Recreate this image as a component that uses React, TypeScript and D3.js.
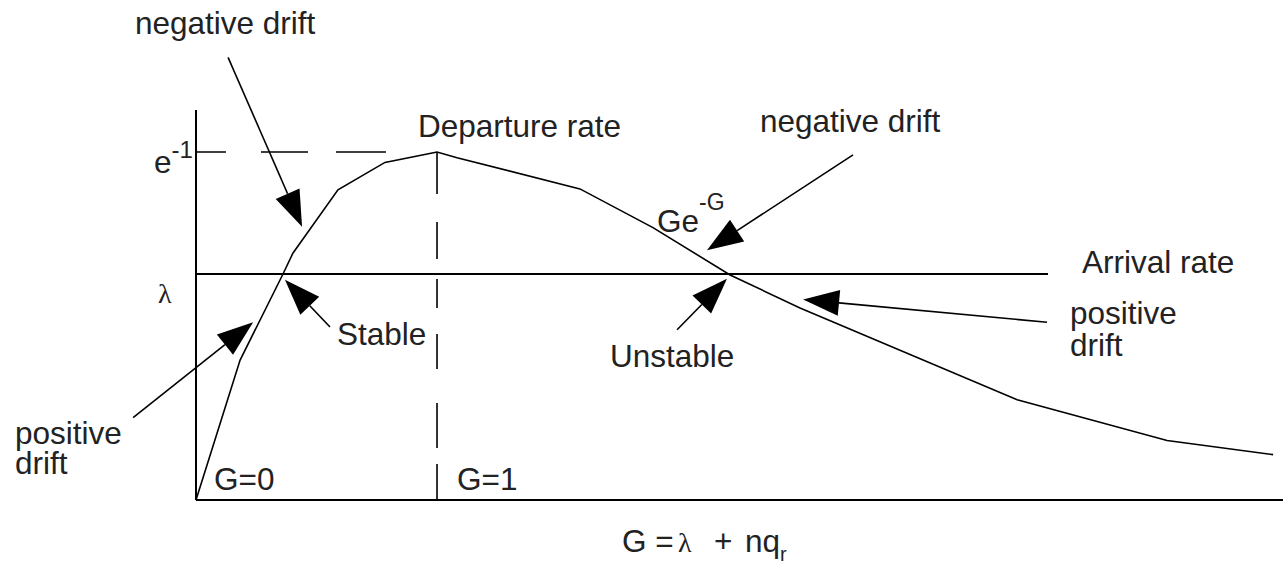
import React, { useEffect } from 'react';
import * as d3 from 'd3';

// departure rate curve Ge^-G (G, rate)
const curveG = [0, 0.183, 0.361, 0.402, 0.589, 0.784, 0.98, 1.0, 1.083, 1.593, 1.896, 2.216, 2.506, 3.407, 4.029, 4.469];
const curveRate = [0, 0.148, 0.239, 0.261, 0.328, 0.357, 0.367, 0.368, 0.362, 0.329, 0.288, 0.238, 0.203, 0.106, 0.063, 0.048];

// arrival rate lambda and its extent along G
const arrivalRate = 0.239;
const arrivalEndG = 3.535;
const peakRate = 0.368; // e^-1
const peakG = 1;

// annotation arrows: tail -> tip, in data units
const arrowTailG = [0.133, 0.556, -0.261, 2.726, 1.996, 3.531];
const arrowTailRate = [0.468, 0.183, 0.087, 0.365, 0.18, 0.188];
const arrowTipG = [0.44, 0.369, 0.237, 2.12, 2.203, 2.519];
const arrowTipRate = [0.289, 0.233, 0.188, 0.264, 0.234, 0.212];

const W = 1283;
const H = 567;
const FONT = '"Liberation Sans", Arial, Helvetica, sans-serif';
const SERIF = '"Liberation Serif", "DejaVu Serif", serif';

function Arrow({ x1, y1, x2, y2 }: { x1: number; y1: number; x2: number; y2: number }) {
  const ang = Math.atan2(y2 - y1, x2 - x1);
  const len = 36;
  const hw = 13;
  const bx = x2 - len * Math.cos(ang);
  const by = y2 - len * Math.sin(ang);
  const px = -Math.sin(ang) * hw;
  const py = Math.cos(ang) * hw;
  return (
    <g>
      <line x1={x1} y1={y1} x2={bx} y2={by} stroke="#000" strokeWidth={1.6} />
      <path d={`M${x2},${y2}L${bx + px},${by + py}L${bx - px},${by - py}Z`} fill="#000" />
    </g>
  );
}

export default function App() {
  useEffect(() => {
    document.body.style.margin = '0';
  }, []);

  const x = d3.scaleLinear().domain([0, 4.51]).range([196, 1283]);
  const y = d3.scaleLinear().domain([0, 0.368]).range([500, 152]);

  const pts = curveG.map((g, i) => [g, curveRate[i]] as [number, number]);
  const line = d3.line<[number, number]>().x(d => x(d[0])).y(d => y(d[1]));

  const txt = { fontFamily: FONT, fontSize: 31.5, fill: '#222' };

  return (
    <svg width={W} height={H} style={{ display: 'block', background: '#fff' }}>
      {/* axes */}
      <line x1={x(0)} y1={y(0)} x2={x(0)} y2={110} stroke="#000" strokeWidth={2} />
      <line x1={x(0)} y1={y(0)} x2={W} y2={y(0)} stroke="#000" strokeWidth={2} />

      {/* e^-1 and G=1 guides */}
      <line x1={x(0)} y1={y(peakRate)} x2={x(0) + 190} y2={y(peakRate)} stroke="#000" strokeWidth={1.6}
        strokeDasharray="30 35 47 28 50" />
      <line x1={x(peakG)} y1={y(peakRate)} x2={x(peakG)} y2={y(0)} stroke="#000" strokeWidth={1.6}
        strokeDasharray="42 28 37 20 29 26 35 34 45 16 37" />

      {/* arrival rate */}
      <line x1={x(0)} y1={y(arrivalRate)} x2={x(arrivalEndG)} y2={y(arrivalRate)} stroke="#000" strokeWidth={1.8} />

      {/* departure curve */}
      <path d={line(pts) || ''} fill="none" stroke="#000" strokeWidth={1.6} />

      {arrowTailG.map((g, i) => (
        <Arrow key={i} x1={x(g)} y1={y(arrowTailRate[i])} x2={x(arrowTipG[i])} y2={y(arrowTipRate[i])} />
      ))}

      {/* labels */}
      <text x={135} y={34} {...txt}>negative drift</text>
      <text x={418} y={137} {...txt}>Departure rate</text>
      <text x={760} y={132} {...txt}>negative drift</text>
      <text x={657} y={232} {...txt}>Ge<tspan dy={-22} fontSize={23}>-G</tspan></text>
      <text x={1082} y={273} {...txt}>Arrival rate</text>
      <text x={1070} y={324} {...txt}>positive<tspan x={1070} dy={32}>drift</tspan></text>
      <text x={337} y={345} {...txt}>Stable</text>
      <text x={610} y={367} {...txt}>Unstable</text>
      <text x={15} y={444} {...txt}>positive<tspan x={15} dy={30}>drift</tspan></text>
      <text x={214} y={490} {...txt}>G=0</text>
      <text x={x(peakG) + 20} y={490} {...txt}>G=1</text>
      <text x={154} y={173} {...txt}>e<tspan dy={-15} fontSize={24}>-1</tspan></text>
      <text x={158} y={303} {...txt} fontFamily={SERIF} fontSize={28}>λ</text>

      {/* x axis title */}
      <text x={622} y={552} {...txt}>G =<tspan x={678} fontFamily={SERIF} fontSize={28}>λ</tspan><tspan x={714}>+</tspan><tspan x={745}>nq</tspan><tspan dy={9} fontSize={20}>r</tspan></text>
    </svg>
  );
}
